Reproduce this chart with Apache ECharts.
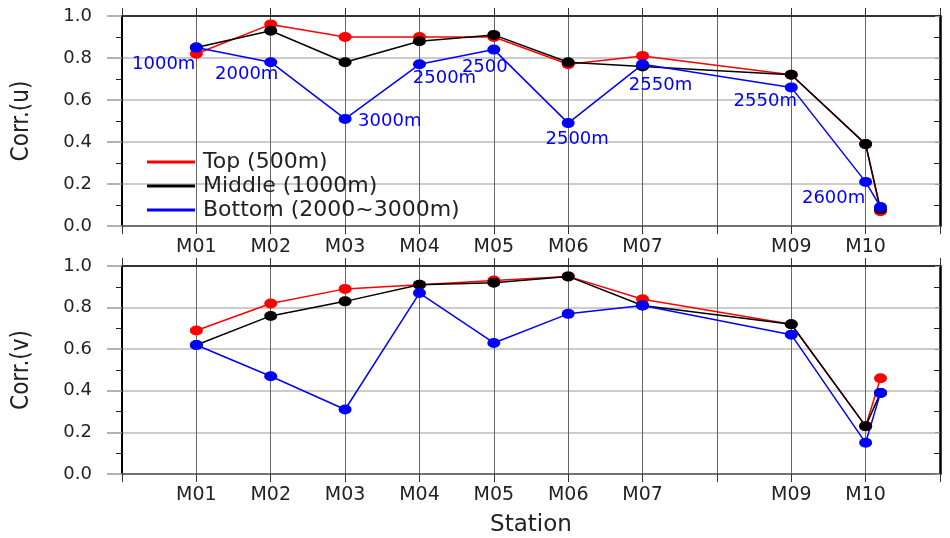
<!DOCTYPE html>
<html>
<head>
<meta charset="utf-8">
<script src="https://cdn.jsdelivr.net/npm/echarts@6/dist/echarts.min.js"></script>
<style>html,body{margin:0;padding:0;background:#fff}#c{width:950px;height:538px}</style>
</head>
<body>
<div id="c"></div>
<script>
// ---- data ----
const xTickLabels = ['', 'M01', 'M02', 'M03', 'M04', 'M05', 'M06', 'M07', '', 'M09', 'M10', ''];
const stationPos = [1, 2, 3, 4, 5, 6, 7, 9, 10, 10.2];
const seriesNames = ['Top (500m)', 'Middle (1000m)', 'Bottom (2000~3000m)'];
const uTop = [0.82, 0.96, 0.90, 0.90, 0.90, 0.77, 0.81, 0.72, 0.39, 0.07];
const uMid = [0.85, 0.93, 0.78, 0.88, 0.91, 0.78, 0.76, 0.72, 0.39, 0.08];
const uBot = [0.85, 0.78, 0.51, 0.77, 0.84, 0.49, 0.77, 0.66, 0.21, 0.09];
const vTop = [0.69, 0.82, 0.89, 0.91, 0.93, 0.95, 0.84, 0.72, 0.23, 0.46];
const vMid = [0.62, 0.76, 0.83, 0.91, 0.92, 0.95, 0.81, 0.72, 0.23, 0.39];
const vBot = [0.62, 0.47, 0.31, 0.87, 0.63, 0.77, 0.81, 0.67, 0.15, 0.39];
const uBotDepth = ['1000m', '2000m', '3000m', '2500m', '2500', '2500m', '2550m', '2550m', '2600m', ''];

// ---- styles ----
const colors = ['#ff0000', '#000000', '#0000ff'];
const FONT = 'DejaVu Sans';
const NARROW = "'DejaVu Sans Condensed', 'Liberation Sans Narrow', 'DejaVu Sans'";
const labelPlacement = [
  [-1, 17, 'right'], [-24, 12, 'center'], [13, 2, 'left'], [25, 14, 'center'],
  [-9, 18, 'center'], [9, 16, 'center'], [18, 21, 'center'], [-26, 14, 'center'],
  [-32, 16, 'center'], [0, 0, 'center']
];

function mkData(vals, depth) {
  return vals.map((v, i) => {
    const item = { value: [stationPos[i], v] };
    if (depth && depth[i]) {
      const p = labelPlacement[i];
      item.label = {
        show: true, position: 'inside', formatter: depth[i],
        offset: [p[0], p[1]], align: p[2], verticalAlign: 'middle',
        color: '#0000ff', fontFamily: FONT, fontSize: 18
      };
    }
    return item;
  });
}

function mkSeries(name, vals, color, gi, depth) {
  return {
    type: 'line', name: name, xAxisIndex: gi * 2, yAxisIndex: gi * 2,
    data: mkData(vals, depth), symbol: 'circle', symbolSize: [13, 10], showAllSymbol: true,
    lineStyle: { color: color, width: 1.5 }, itemStyle: { color: color },
    label: { show: false }, emphasis: { disabled: true }, animation: false
  };
}

const grids = [
  { left: 122, right: 10, top: 16, height: 210 },
  { left: 122, right: 10, top: 266, height: 210 }
];

const xAxes = [];
const yAxes = [];
[0, 1].forEach(gi => {
  xAxes.push({
    type: 'value', gridIndex: gi, min: 0, max: 11, interval: 1, position: 'bottom',
    name: gi === 1 ? 'Station' : '', nameLocation: 'middle', nameGap: 40,
    nameTextStyle: { fontFamily: FONT, fontSize: 23, color: '#222' },
    axisLine: { show: true, onZero: false, lineStyle: { color: '#555', width: 1.5 } },
    axisTick: { show: true, inside: false, length: 8, lineStyle: { color: '#333' } },
    axisLabel: { show: true, margin: 12, fontFamily: FONT, fontSize: 19, color: '#222',
      formatter: v => xTickLabels[Math.round(v)] || '' },
    splitLine: { show: true, lineStyle: { color: '#666', width: 1 } }
  });
  xAxes.push({
    type: 'value', gridIndex: gi, min: 0, max: 11, interval: 1, position: 'top',
    axisLine: { show: true, onZero: false, lineStyle: { color: '#000', width: 1.5 } },
    axisTick: { show: true, inside: false, length: 8, lineStyle: { color: '#333' } },
    axisLabel: { show: false }, splitLine: { show: false }
  });
  yAxes.push({
    type: 'value', gridIndex: gi, min: 0, max: 1, interval: 0.2, position: 'left',
    name: gi === 0 ? 'Corr.(u)' : 'Corr.(v)', nameLocation: 'middle', nameGap: 88, nameRotate: 90,
    nameTextStyle: { fontFamily: NARROW, fontSize: 24, color: '#222' },
    axisLine: { show: true, onZero: false, lineStyle: { color: '#000', width: 2 } },
    axisTick: { show: true, inside: false, length: 15, lineStyle: { color: '#999', width: 1.5 } },
    minorTick: { show: true, splitNumber: 2, length: 6, lineStyle: { color: '#222', width: 1 } },
    axisLabel: { show: true, margin: 30, fontFamily: FONT, fontSize: 18, color: '#222',
      formatter: v => v.toFixed(1) },
    splitLine: { show: true, lineStyle: { color: '#bbb', width: 1.5 } }
  });
  yAxes.push({
    type: 'value', gridIndex: gi, min: 0, max: 1, interval: 0.2, position: 'right',
    axisLine: { show: true, onZero: false, lineStyle: { color: '#000', width: 2.5 } },
    axisTick: { show: true, inside: true, length: 5, lineStyle: { color: '#999' } },
    minorTick: { show: true, splitNumber: 2, length: 6, lineStyle: { color: '#222' } },
    axisLabel: { show: false }, splitLine: { show: false }
  });
});

const series = [
  mkSeries(seriesNames[0], uTop, colors[0], 0),
  mkSeries(seriesNames[1], uMid, colors[1], 0),
  mkSeries(seriesNames[2], uBot, colors[2], 0, uBotDepth),
  mkSeries(seriesNames[0], vTop, colors[0], 1),
  mkSeries(seriesNames[1], vMid, colors[1], 1),
  mkSeries(seriesNames[2], vBot, colors[2], 1)
];

const chart = echarts.init(document.getElementById('c'), null, { renderer: 'canvas' });
chart.setOption({
  animation: false,
  backgroundColor: '#fff',
  grid: grids,
  xAxis: xAxes,
  yAxis: yAxes,
  legend: {
    data: seriesNames, orient: 'vertical', left: 142, top: 146,
    icon: 'rect', itemWidth: 48, itemHeight: 3, itemGap: 2,
    textStyle: { fontFamily: FONT, fontSize: 22, color: '#222', lineHeight: 20, padding: [0, 0, 0, 3] },
    selectedMode: false
  },
  series: series
});
</script>
</body>
</html>
